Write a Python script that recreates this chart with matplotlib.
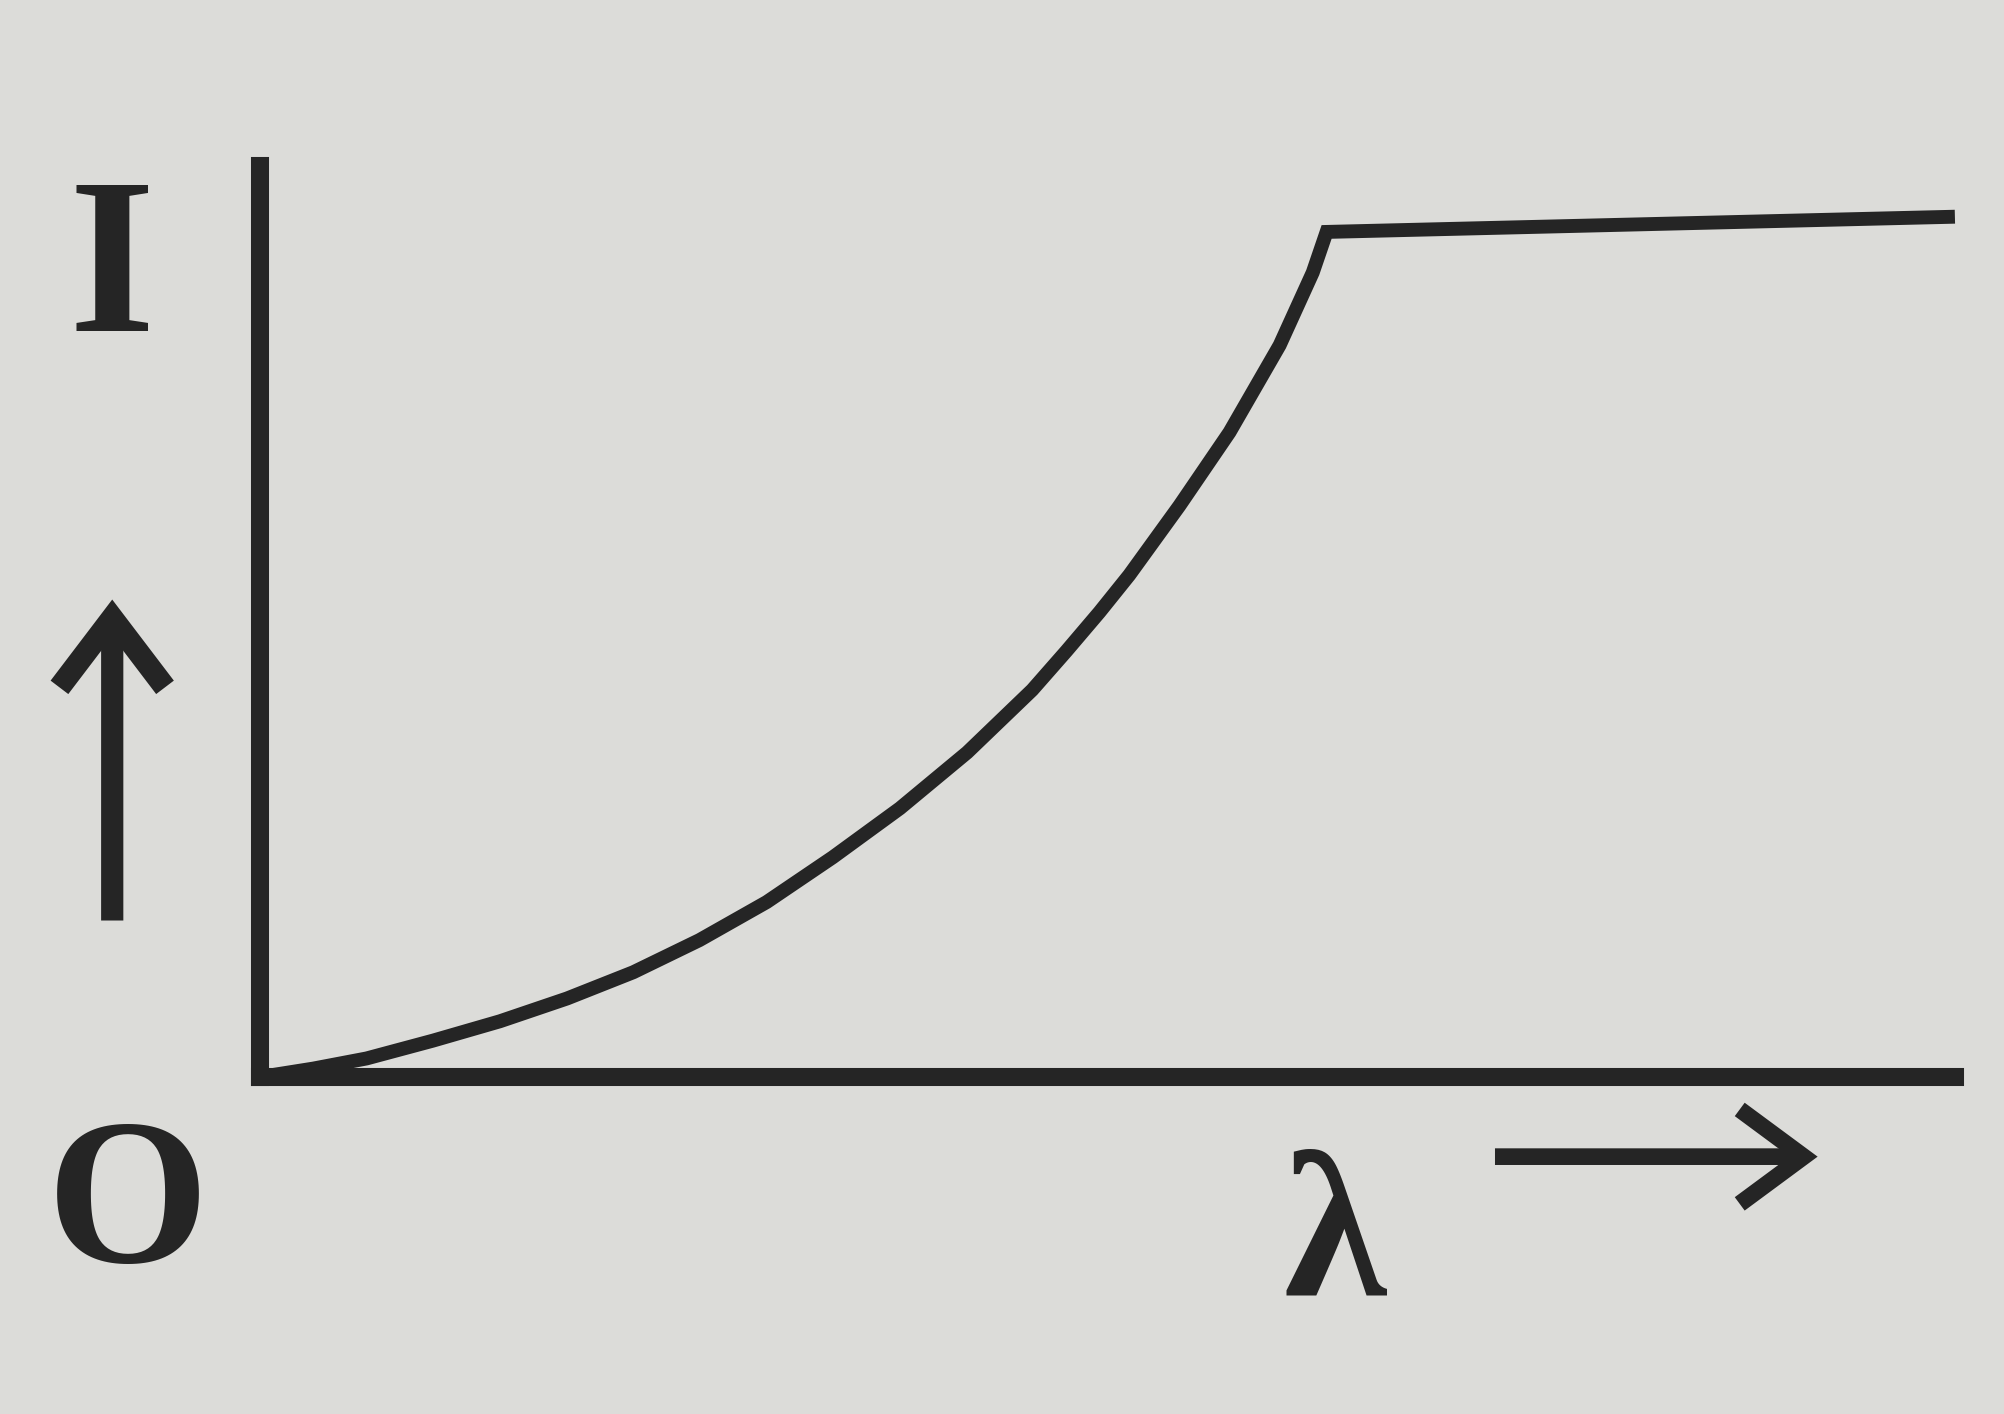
"""Photoelectric-style I vs lambda sketch, redrawn from a scanned textbook figure."""
import matplotlib
matplotlib.use("Agg")
import matplotlib.pyplot as plt
from matplotlib.patches import FancyArrowPatch

# ── data (lambda normalised so the knee sits at 1) ──
wavelength = [0.0, 0.050, 0.100, 0.162, 0.225, 0.288, 0.350, 0.412, 0.475,
              0.537, 0.600, 0.663, 0.724, 0.756, 0.787, 0.815, 0.862, 0.909,
              0.956, 0.987, 1.0, 1.589]
intensity  = [0.0, 0.010, 0.022, 0.043, 0.066, 0.093, 0.124, 0.162, 0.207,
              0.260, 0.318, 0.384, 0.458, 0.504, 0.550, 0.594, 0.676, 0.763,
              0.866, 0.952, 1.0, 1.018]
x_max, y_max = 1.589, 1.078

INK   = "#252525"
PAPER = "#dcdcd9"
SERIF = ["Liberation Serif", "DejaVu Serif"]

fig = plt.figure(figsize=(20.04, 14.14), dpi=100, facecolor=PAPER)
ax = fig.add_axes([0.1297, 0.2383, 0.8458, 0.6443])
ax.set_facecolor("none")
ax.set_xlim(0, x_max)
ax.set_ylim(0, y_max)

ax.plot(wavelength, intensity, color=INK, lw=10, solid_joinstyle="miter",
        solid_capstyle="butt", clip_on=False)

for side in ("top", "right"):
    ax.spines[side].set_visible(False)
for side in ("left", "bottom"):
    ax.spines[side].set_linewidth(13)
    ax.spines[side].set_color(INK)
    ax.spines[side].set_capstyle("projecting")
ax.set_xticks([])
ax.set_yticks([])

# axis letters
fig.text(0.056, 0.804, "I", fontsize=160, family=SERIF, weight="bold",
         color=INK, ha="center", va="center")
fig.text(0.064, 0.143, "O", fontsize=150, family=SERIF, weight="bold",
         color=INK, ha="center", va="center")
fig.text(0.666, 0.120, "λ", fontsize=150, family=SERIF, weight="bold",
         color=INK, ha="center", va="center")

# direction arrows
up = FancyArrowPatch((0.056, 0.349), (0.056, 0.576), transform=fig.transFigure,
                     arrowstyle="->,head_length=2.5,head_width=1.9",
                     lw=16, color=INK, mutation_scale=20,
                     shrinkA=0, shrinkB=0, capstyle="butt", joinstyle="miter")
right = FancyArrowPatch((0.746, 0.182), (0.907, 0.182), transform=fig.transFigure,
                        arrowstyle="->,head_length=2.3,head_width=1.7",
                        lw=12, color=INK, mutation_scale=20,
                        shrinkA=0, shrinkB=0, capstyle="butt", joinstyle="miter")
fig.add_artist(up)
fig.add_artist(right)

fig.savefig("out.png", dpi=100, facecolor=PAPER)
